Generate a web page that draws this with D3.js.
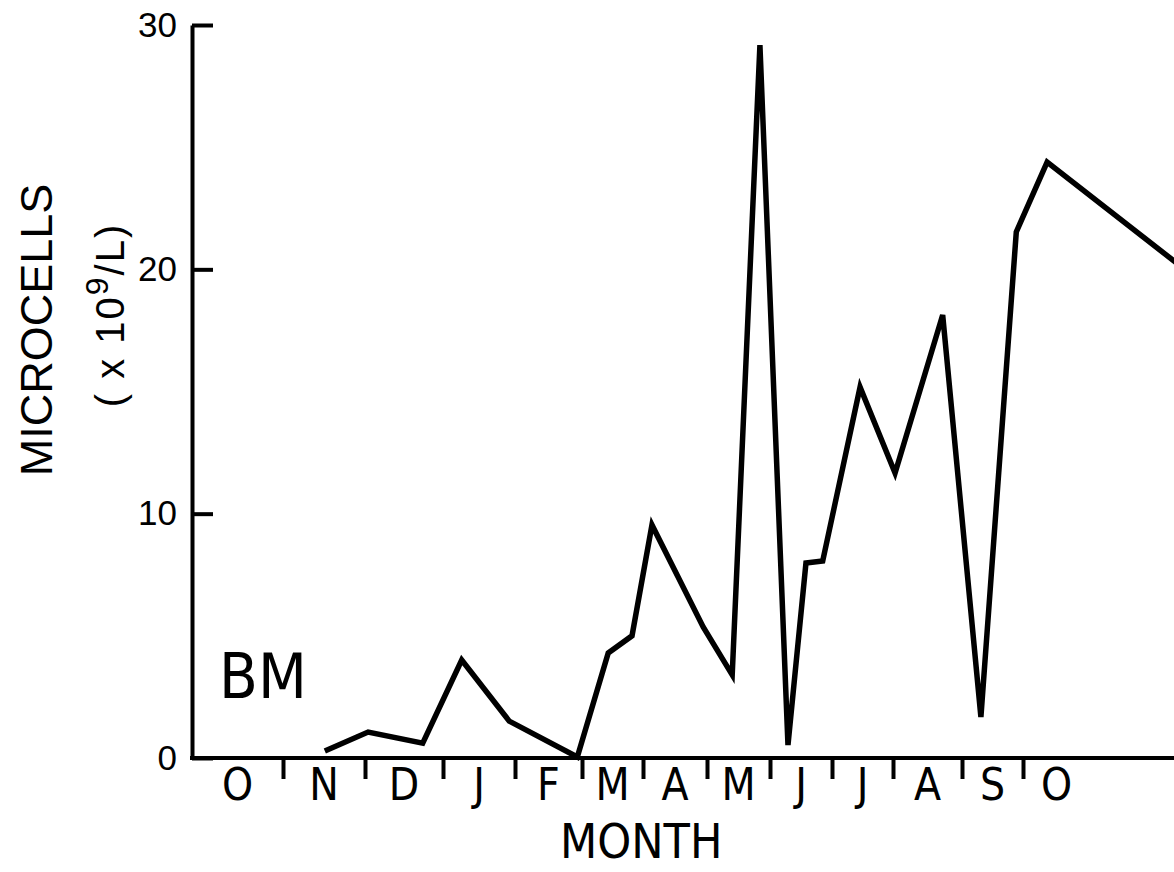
<!DOCTYPE html>
<html>
<head>
<meta charset="utf-8">
<script src="https://cdn.jsdelivr.net/npm/d3@7"></script>
<style>
  body { margin: 0; background: #fff; }
  svg { display: block; }
  text { fill: #000; }
</style>
</head>
<body>
<div id="chart"></div>
<script>
// Month letters along the x axis, Oct through Oct.
var months = ["O", "N", "D", "J", "F", "M", "A", "M", "J", "J", "A", "S", "O"];

// Sample times in months after the start of October.
var sampleMonth = [1.51, 2.04, 2.74, 3.26, 3.92, 4.93, 5.43, 5.82, 6.14, 6.94,
                   7.40, 7.84, 8.29, 8.58, 8.85, 9.46, 10.03, 10.72, 11.31, 11.89,
                   12.36, 14.6];

// Microcells (x10^9 / L) at each sample.
var microcells = [0.29, 1.06, 0.61, 4.01, 1.51, 0.04, 4.30, 5.00, 9.54, 5.36,
                  3.40, 29.18, 0.53, 7.98, 8.06, 15.18, 11.66, 18.13, 1.68, 21.53,
                  24.39, 19.6];

var yTicks = [0, 10, 20, 30];

(function() {

  // Layout.
  var width = 1174,
      height = 872,
      plotLeft = 192,
      plotTop = 25,
      plotBottom = 758;

  var svg = d3.select("#chart").append("svg")
      .attr("width", width)
      .attr("height", height);

  // The hand-drawn months are not all the same width, so the x scale is
  // piecewise: one segment per month.
  var monthEdges = d3.range(months.length + 1);
  var x = d3.scaleLinear()
      .domain(monthEdges)
      .range([192, 283, 365, 443, 515, 582, 643, 707, 770, 832, 893, 962, 1023, 1090]);

  var y = d3.scaleLinear()
      .domain([0, 30])
      .range([plotBottom, plotTop]);

  var narrow = "'Liberation Sans Narrow', 'DejaVu Sans Condensed', 'Arial Narrow', sans-serif",
      regular = "'Liberation Sans', Arial, Helvetica, sans-serif";

  // Y axis, ticks pointing inward.
  var yAxis = svg.append("g")
      .attr("transform", "translate(" + plotLeft + ",0)")
      .call(d3.axisLeft(y)
        .tickValues(yTicks)
        .tickSizeInner(-21)
        .tickSizeOuter(0)
        .tickPadding(15));
  yAxis.select(".domain").attr("stroke-width", 4);
  yAxis.selectAll(".tick line").attr("stroke-width", 4);
  yAxis.selectAll(".tick text")
      .attr("font-family", regular)
      .attr("font-size", 35)
      .attr("fill", "#000");

  // X axis: ticks at month boundaries, letters in the middle of each month.
  var xAxis = svg.append("g")
      .attr("transform", "translate(0," + plotBottom + ")")
      .call(d3.axisBottom(x)
        .tickValues(monthEdges.slice(1, months.length))
        .tickFormat("")
        .tickSizeInner(21)
        .tickSizeOuter(0));
  xAxis.select(".domain").remove();
  xAxis.selectAll(".tick line").attr("stroke-width", 4);
  xAxis.append("line")
      .attr("x1", x(0) - 2)
      .attr("x2", width)
      .attr("stroke", "#000")
      .attr("stroke-width", 4);

  xAxis.selectAll(".month")
      .data(months)
    .enter().append("text")
      .attr("class", "month")
      .attr("x", function(d, i) { return x(i + 0.5); })
      .attr("y", 42)
      .attr("text-anchor", "middle")
      .attr("font-family", narrow)
      .attr("font-size", 44)
      .text(function(d) { return d; });

  // The series.
  var points = sampleMonth.map(function(m, i) { return [m, microcells[i]]; });
  var line = d3.line()
      .x(function(d) { return x(d[0]); })
      .y(function(d) { return y(d[1]); });

  svg.append("path")
      .datum(points)
      .attr("d", line)
      .attr("fill", "none")
      .attr("stroke", "#000")
      .attr("stroke-width", 5.5)
      .attr("stroke-linejoin", "miter");

  // Axis titles and the site label.
  svg.append("text")
      .attr("transform", "translate(" + x(5.97) + ",858)")
      .attr("text-anchor", "middle")
      .attr("font-family", narrow)
      .attr("font-size", 48)
      .text("MONTH");

  svg.append("text")
      .attr("transform", "translate(52,330) rotate(-90)")
      .attr("text-anchor", "middle")
      .attr("font-family", regular)
      .attr("font-size", 45)
      .text("MICROCELLS");

  var unit = svg.append("text")
      .attr("transform", "translate(124,315) rotate(-90)")
      .attr("text-anchor", "middle")
      .attr("font-family", regular)
      .attr("font-size", 40)
      .attr("letter-spacing", 2);
  unit.append("tspan").text("( x 10");
  unit.append("tspan").attr("dy", -16).attr("font-size", 32).text("9");
  unit.append("tspan").attr("dy", 16).text("/L)");

  svg.append("text")
      .attr("x", 219)
      .attr("y", 698)
      .attr("font-family", narrow)
      .attr("font-size", 63)
      .text("BM");
})();
</script>
</body>
</html>
